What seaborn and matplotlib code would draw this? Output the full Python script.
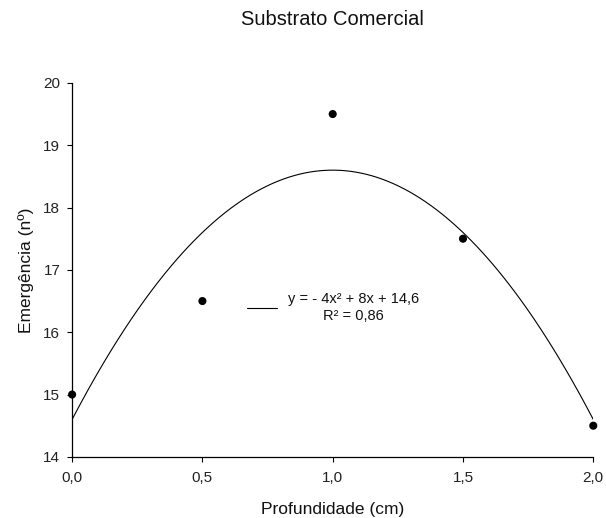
import matplotlib
matplotlib.use("Agg")
import matplotlib.pyplot as plt
import seaborn as sns
import pandas as pd

profundidade = [0.0, 0.5, 1.0, 1.5, 2.0]
emergencia = [15.0, 16.5, 19.5, 17.5, 14.5]
x_ticks = [0.0, 0.5, 1.0, 1.5, 2.0]
x_tick_labels = ["0,0", "0,5", "1,0", "1,5", "2,0"]
y_ticks = [14, 15, 16, 17, 18, 19, 20]
title = "Substrato Comercial"
x_label = "Profundidade (cm)"
y_label = "Emergência (nº)"
eq_label = "y = - 4x² + 8x + 14,6\nR² = 0,86"

sns.set_style("ticks")
plt.rcParams["font.family"] = ["Liberation Sans", "DejaVu Sans"]

df = pd.DataFrame({"x": profundidade, "y": emergencia})

fig = plt.figure(figsize=(6.06, 5.18), dpi=100)
ax = fig.add_axes([0.119, 0.118, 0.860, 0.722])

sns.regplot(data=df, x="x", y="y", order=2, ci=None, ax=ax,
            scatter_kws=dict(color="black", s=34, edgecolor="none", alpha=1, zorder=3, clip_on=False),
            line_kws=dict(color="black", lw=0.8, label=eq_label))

ax.set_xlim(0, 2)
ax.set_ylim(14, 20)
ax.set_xticks(x_ticks)
ax.set_xticklabels(x_tick_labels)
ax.set_yticks(y_ticks)
ax.tick_params(labelsize=11, length=3.5, width=0.8, color="black", labelcolor="#222222", pad=5)
ax.tick_params(axis="x", pad=7)
for s in ["top", "right"]:
    ax.spines[s].set_visible(False)
for s in ["left", "bottom"]:
    ax.spines[s].set_color("black")
    ax.spines[s].set_linewidth(0.9)

ax.set_xlabel(x_label, fontsize=12.5, labelpad=12, color="#111111")
ax.set_ylabel(y_label, fontsize=12.5, labelpad=7, color="#111111")
ax.set_title(title, fontsize=14.5, pad=42, color="#111111")

leg = ax.legend(loc="upper left", bbox_to_anchor=(0.335, 0.44), frameon=False,
                fontsize=10.5, borderpad=0, borderaxespad=0, handlelength=2.1,
                handletextpad=0.75, labelspacing=0)
for t in leg.get_texts():
    t.set_multialignment("center")
    t.set_color("#111111")

fig.savefig("out.png", dpi=100)
